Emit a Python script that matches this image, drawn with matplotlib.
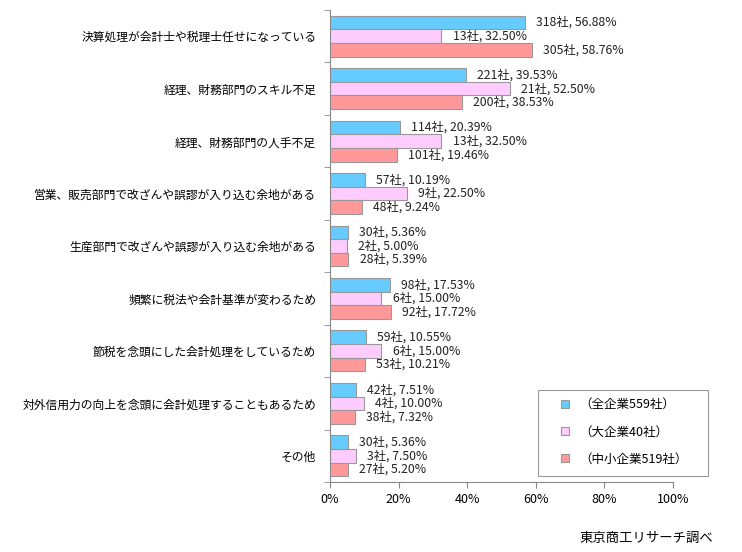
import numpy as np
import matplotlib.pyplot as plt
from matplotlib.patches import Rectangle

plt.rcParams['font.family'] = ['Noto Sans CJK JP', 'DejaVu Sans']

categories = [
    '決算処理が会計士や税理士任せになっている',
    '経理、財務部門のスキル不足',
    '経理、財務部門の人手不足',
    '営業、販売部門で改ざんや誤謬が入り込む余地がある',
    '生産部門で改ざんや誤謬が入り込む余地がある',
    '頻繁に税法や会計基準が変わるため',
    '節税を念頭にした会計処理をしているため',
    '対外信用力の向上を念頭に会計処理することもあるため',
    'その他',
]

series_names = ['（全企業559社）', '（大企業40社）', '（中小企業519社）']

all_cnt = [318, 221, 114, 57, 30, 98, 59, 42, 30]
all_pct = [56.88, 39.53, 20.39, 10.19, 5.36, 17.53, 10.55, 7.51, 5.36]
big_cnt = [13, 21, 13, 9, 2, 6, 6, 4, 3]
big_pct = [32.50, 52.50, 32.50, 22.50, 5.00, 15.00, 15.00, 10.00, 7.50]
sme_cnt = [305, 200, 101, 48, 28, 92, 53, 38, 27]
sme_pct = [58.76, 38.53, 19.46, 9.24, 5.39, 17.72, 10.21, 7.32, 5.20]

colors = ['#66CCFF', '#FFCCFF', '#FF9999']

fig = plt.figure(figsize=(7.42, 5.52), dpi=100)
ax = fig.add_axes([330/742, 1-482/552, 343/742, 472/552])

n = len(categories)
y = np.arange(n)
h = 0.26
cnts = [all_cnt, big_cnt, sme_cnt]
pcts = [all_pct, big_pct, sme_pct]

handles = []
for k in range(3):
    yy = y + (k-1)*h
    bars = ax.barh(yy, pcts[k], height=h, color=colors[k], edgecolor='#999999',
                   linewidth=0.8, label=series_names[k])
    handles.append(bars)
    for i in range(n):
        ax.annotate('%d社, %.2f%%' % (cnts[k][i], pcts[k][i]),
                    xy=(pcts[k][i], yy[i]), xytext=(8, 0),
                    textcoords='offset points', ha='left', va='center',
                    fontsize=8.8, color='#222222')

ax.set_xlim(0, 100)
ax.set_ylim(n-0.5, -0.5)
ax.set_xticks([0, 20, 40, 60, 80, 100])
ax.set_xticklabels(['0%', '20%', '40%', '60%', '80%', '100%'], fontsize=9)
ax.set_yticks(y)
ax.set_yticklabels(categories, fontsize=8.5)
ax.set_yticks(np.arange(n+1)-0.5, minor=True)
ax.tick_params(axis='y', which='major', length=0, pad=10)
ax.tick_params(axis='y', which='minor', length=4, color='#888888', direction='out')
ax.tick_params(axis='x', length=4, color='#888888', direction='out', pad=4)

for s in ['top', 'right']:
    ax.spines[s].set_visible(False)
for s in ['left', 'bottom']:
    ax.spines[s].set_color('#888888')

# legend box drawn separately
fig.patches.append(Rectangle((538/742, 1-476/552), 170/742, 86/552,
                             transform=fig.transFigure, facecolor='white',
                             edgecolor='#999999', linewidth=0.8, zorder=5))
leg = fig.legend(handles, series_names, loc='upper left',
                 bbox_to_anchor=(561/742, 1-398/552),
                 bbox_transform=fig.transFigure, fontsize=9, frameon=False,
                 handlelength=0.6, handleheight=0.6, handletextpad=0.9,
                 labelspacing=1.15, borderpad=0, borderaxespad=0)
leg.set_zorder(6)

fig.text(713/742, 1-538/552, '東京商工リサーチ調べ', ha='right', va='center', fontsize=9.6)

fig.savefig('out.png', dpi=100)
